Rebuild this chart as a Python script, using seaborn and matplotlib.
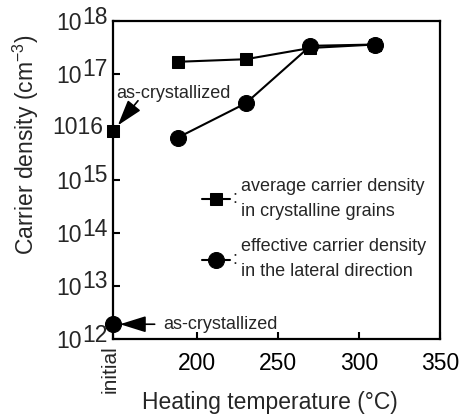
import matplotlib
matplotlib.use("Agg")
import matplotlib.pyplot as plt
import seaborn as sns
import pandas as pd

# ---- data ----
initial_x = 148
temps = [188, 230, 270, 310]
grain_density = [1.7e17, 1.9e17, 3.1e17, 3.6e17]
lateral_density = [6.3e15, 2.8e16, 3.4e17, 3.6e17]
grain_initial = [8.3e15]
lateral_initial = [1.9e12]
xticks = [initial_x, 200, 250, 300, 350]
xtick_labels = ["initial", "200", "250", "300", "350"]
yticks = [1e12, 1e13, 1e14, 1e15, 1e16, 1e17, 1e18]
ytick_labels = ["10^12", "10^13", "10^14", "10^15", "1016", "10^17", "10^18"]
legend_labels = ["average carrier density\nin crystalline grains",
                 "effective carrier density\nin the lateral direction"]
annot_text = "as-crystallized"

sns.set_theme(style="ticks")
plt.rcParams["font.family"] = ["Liberation Sans", "DejaVu Sans"]
plt.rcParams["mathtext.fontset"] = "custom"
plt.rcParams["mathtext.rm"] = "Liberation Sans"
plt.rcParams["mathtext.it"] = "Liberation Sans:italic"
plt.rcParams["mathtext.bf"] = "Liberation Sans:bold"

W, H = 459, 417
PT = 72 / 100  # points per pixel
BIG = 16.5
SMALL = 13

fig = plt.figure(figsize=(W / 100, H / 100), dpi=100)
ax = fig.add_axes([113 / W, 1 - 339 / H, 327 / W, 318 / H])

df_g = pd.DataFrame({"T": temps, "n": grain_density})
df_l = pd.DataFrame({"T": temps, "n": lateral_density})
sns.lineplot(data=df_g, x="T", y="n", marker="s", markersize=9, color="black",
             markeredgecolor="black", lw=1.5, ax=ax, legend=False)
sns.lineplot(data=df_l, x="T", y="n", marker="o", markersize=11.5, color="black",
             markeredgecolor="black", lw=1.5, ax=ax, legend=False)
sns.scatterplot(x=[initial_x], y=grain_initial, marker="s", s=85, color="black",
                edgecolor="black", ax=ax, clip_on=False, zorder=5, legend=False)
sns.scatterplot(x=[initial_x], y=lateral_initial, marker="o", s=130, color="black",
                edgecolor="black", ax=ax, clip_on=False, zorder=5, legend=False)

ax.set_yscale("log")
ax.set_xlim(initial_x, 350)
ax.set_ylim(1e12, 1e18)
ax.set_xticks(xticks)
ax.set_xticklabels([""] + xtick_labels[1:])
ax.set_yticks(yticks)
ax.minorticks_off()

ax.tick_params(direction="in", length=5, width=1.5, labelsize=BIG,
               colors="black", top=False, right=False)
ax.tick_params(axis="x", pad=9)
ax.tick_params(axis="y", labelleft=False)
for s in ax.spines.values():
    s.set_linewidth(1.6)
    s.set_color("black")

# rotated "initial" tick label
ax.annotate(xtick_labels[0], xy=(initial_x, 0), xycoords=("data", "axes fraction"),
            xytext=(-3 * PT, -6 * PT), textcoords="offset points", rotation=90,
            ha="center", va="top", fontsize=15, annotation_clip=False)

# y tick labels: "10" with a full-size raised exponent, as in the original
for v, lab in zip(yticks, ytick_labels):
    if "^" in lab:
        base, exp = lab.split("^")
        ax.annotate(base, xy=(0, v), xycoords=("axes fraction", "data"),
                    xytext=(-31 * PT, -2.5 * PT), textcoords="offset points",
                    ha="right", va="center", fontsize=BIG, annotation_clip=False)
        ax.annotate(exp, xy=(0, v), xycoords=("axes fraction", "data"),
                    xytext=(-31 * PT, 4 * PT), textcoords="offset points",
                    ha="left", va="center", fontsize=BIG, annotation_clip=False)
    else:
        ax.annotate(lab, xy=(0, v), xycoords=("axes fraction", "data"),
                    xytext=(-10 * PT, 0), textcoords="offset points",
                    ha="right", va="center", fontsize=BIG, annotation_clip=False)

ax.set_xlabel("Heating temperature (°C)", fontsize=BIG)
ax.xaxis.set_label_coords((270 - 113) / 327, -(402 - 339) / 318)
ax.xaxis.label.set_va("center")
ax.set_ylabel("Carrier density (cm$^{-3}$)", fontsize=BIG)
ax.yaxis.set_label_coords(-(113 - 26) / 327, (339 - 145) / 318)
ax.yaxis.label.set_va("center")

# annotations
arrow_kw = dict(arrowstyle="-|>,head_length=0.8,head_width=0.25", color="black",
                lw=1.2, mutation_scale=20, shrinkA=0)
ax.annotate("", xy=(initial_x, grain_initial[0]), xytext=(18, 22),
            textcoords="offset points", arrowprops=dict(arrow_kw, shrinkB=5.5),
            annotation_clip=False)
ax.annotate(annot_text, xy=(initial_x, grain_initial[0]), xytext=(2, 27),
            textcoords="offset points", ha="left", va="center", fontsize=SMALL,
            annotation_clip=False)
ax.annotate("", xy=(initial_x, lateral_initial[0]), xytext=(30, 0),
            textcoords="offset points", arrowprops=dict(arrow_kw, shrinkB=5),
            annotation_clip=False)
ax.annotate(annot_text, xy=(initial_x, lateral_initial[0]), xytext=(36, 0),
            textcoords="offset points", ha="left", va="center", fontsize=SMALL,
            annotation_clip=False)

# legend
handles = [ax.lines[0], ax.lines[1]]
leg = ax.legend(handles, legend_labels, loc="center left",
                bbox_to_anchor=((202 - 113) / 327, (339 - 229) / 318),
                frameon=False, fontsize=SMALL, handlelength=1.55,
                handletextpad=0.6, borderpad=0, borderaxespad=0,
                labelspacing=1.05)
for t in leg.get_texts():
    t.set_linespacing(1.6)

fig.canvas.draw()
r = fig.canvas.get_renderer()
for t in leg.get_texts():
    bb = t.get_window_extent(r)
    fig.text((bb.x0 - 6) / W, (bb.y0 + bb.y1) / 2 / H, ":", ha="center",
             va="center", fontsize=SMALL)

fig.savefig("out.png", dpi=100)
